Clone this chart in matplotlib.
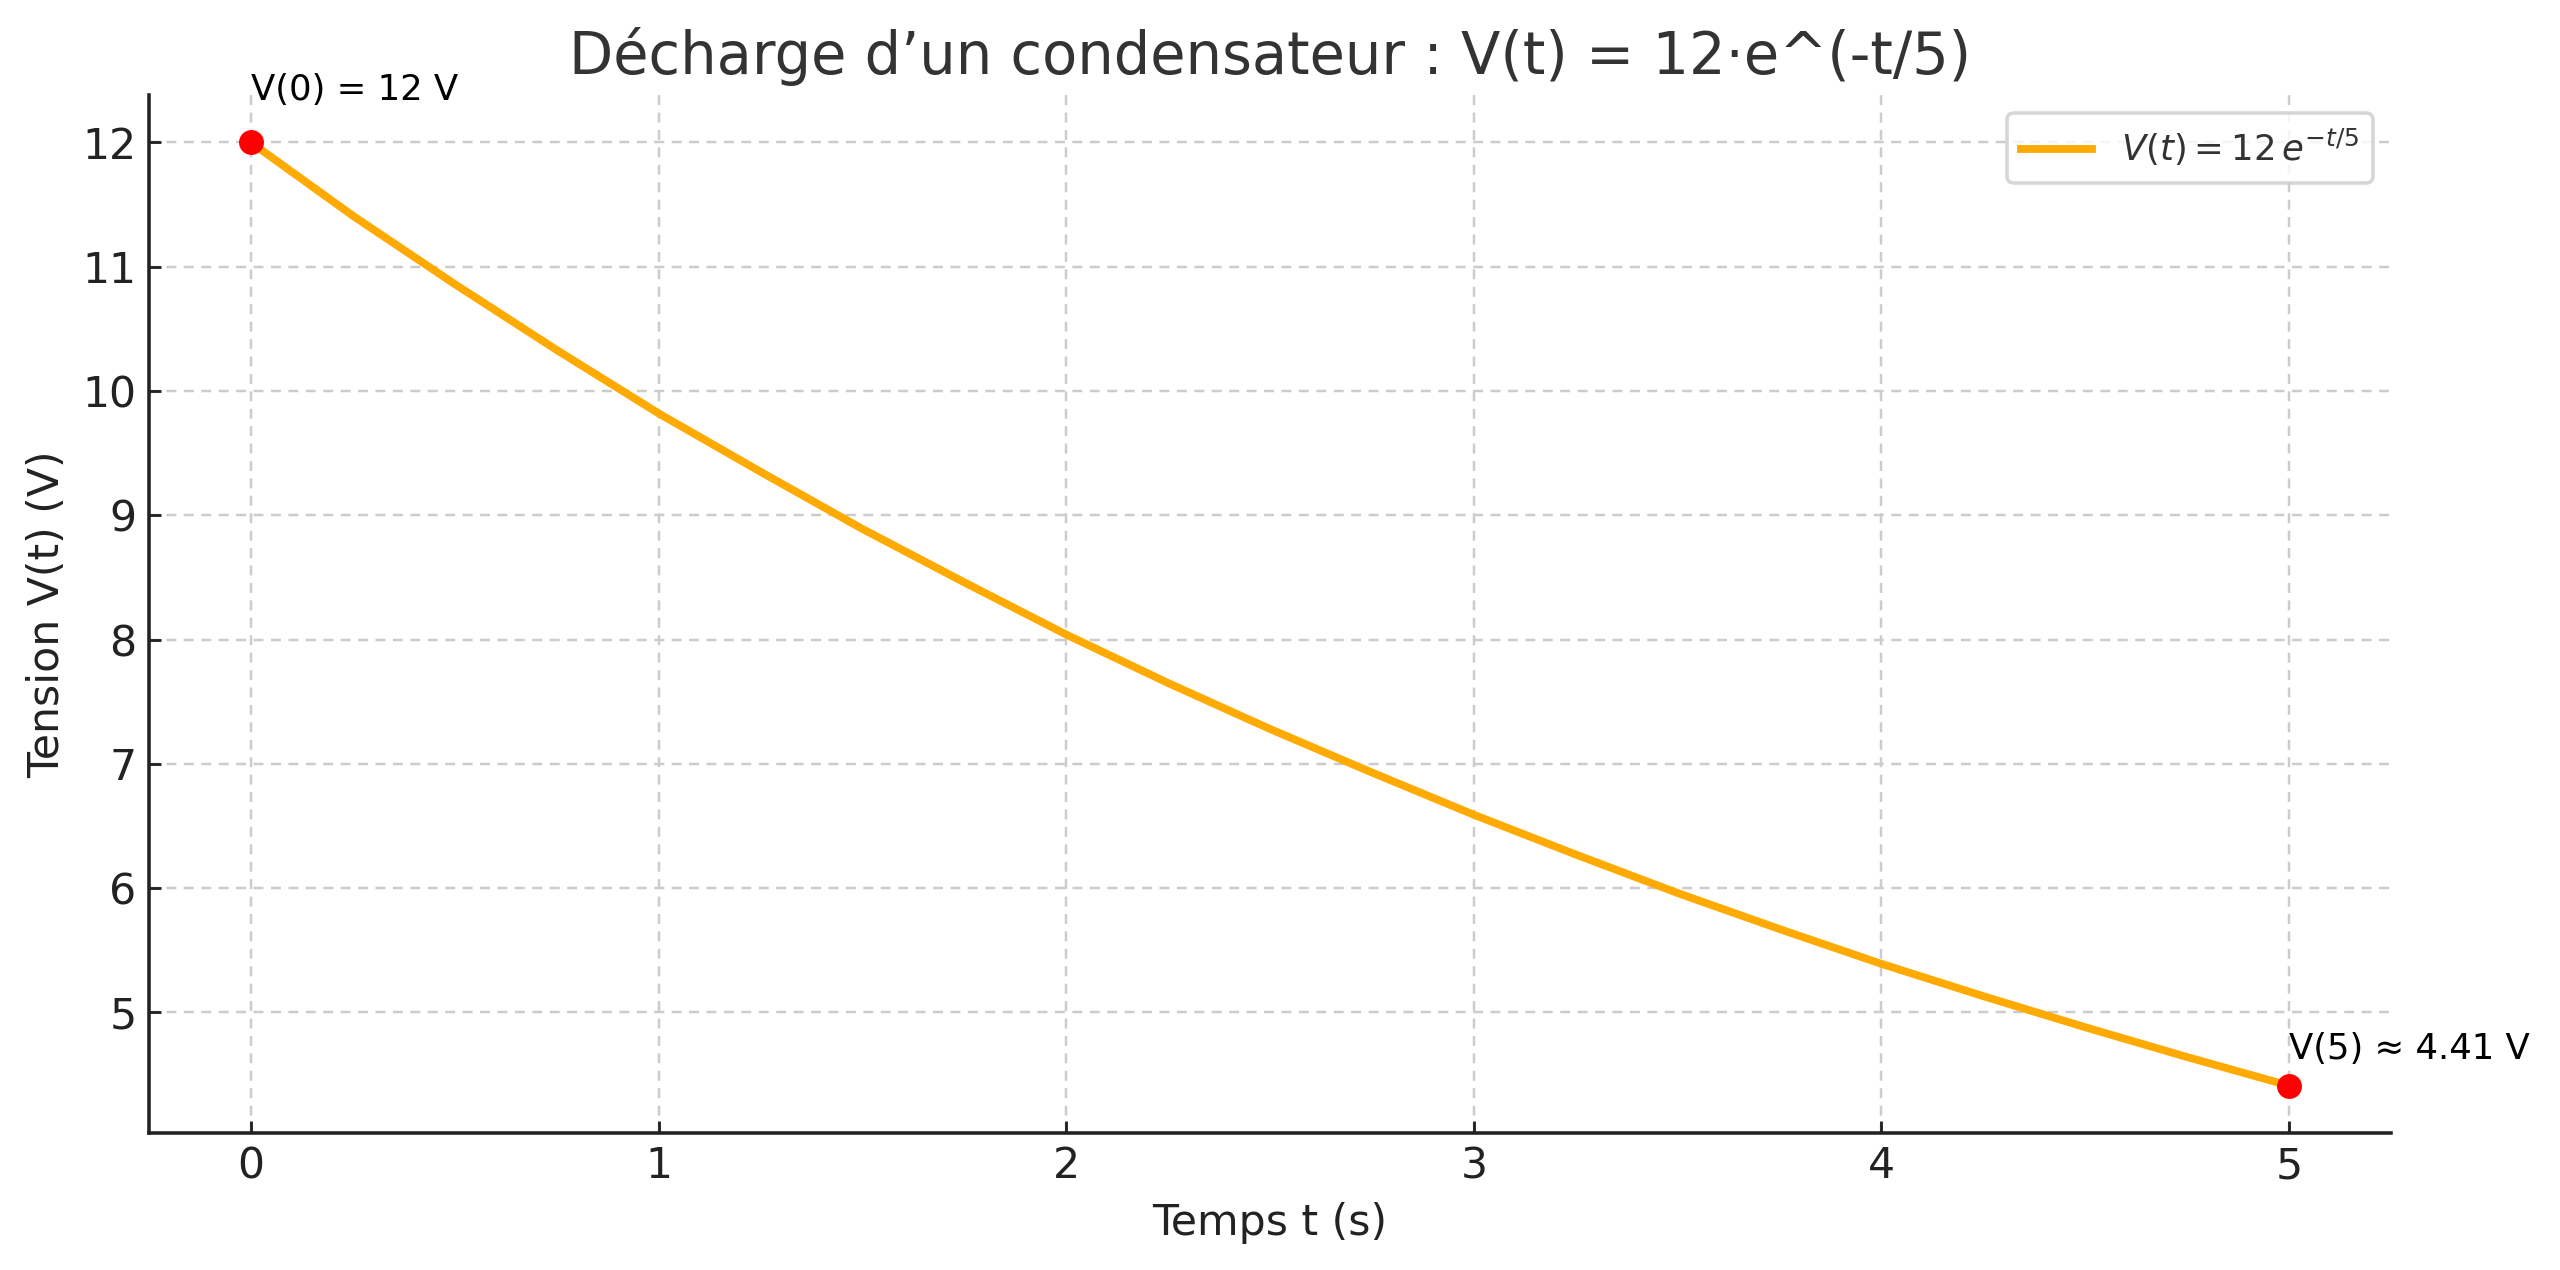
import matplotlib
matplotlib.use("Agg")
import matplotlib.pyplot as plt

# values
t_values = [0, 0.25, 0.5, 0.75, 1, 1.25, 1.5, 1.75, 2, 2.25, 2.5,
            2.75, 3, 3.25, 3.5, 3.75, 4, 4.25, 4.5, 4.75, 5]
v_values = [12.00, 11.41, 10.86, 10.33, 9.82, 9.35, 8.89, 8.46, 8.04, 7.65, 7.28,
            6.93, 6.59, 6.27, 5.96, 5.67, 5.39, 5.13, 4.88, 4.64, 4.41]

marked_t = [0, 5]
marked_v = [12.00, 4.41]
marked_labels = ["V(0) = 12 V", "V(5) ≈ 4.41 V"]
label_offsets = [10, 5.5]

text_col = "#222222"

fig = plt.figure(figsize=(10, 1270 / 256), dpi=256)
ax = fig.add_axes([0.0582, 0.108, 0.934 - 0.0582, 0.925 - 0.108])

ax.plot(t_values, v_values, color="#FFAA00", lw=2.2,
        label=r"$V(t) = 12\,e^{-t/5}$", zorder=2)
ax.plot(marked_t, marked_v, "o", color="#FF0000", ms=6, zorder=3)

for tx, vy, lab, off in zip(marked_t, marked_v, marked_labels, label_offsets):
    ax.annotate(lab, (tx, vy), xytext=(0, off), textcoords="offset points",
                ha="left", va="bottom", fontsize=10, color="black")

ax.set_title("Décharge d’un condensateur : V(t) = 12·e^(-t/5)",
             fontsize=16.2, color="#333333", pad=6)
ax.set_xlabel("Temps t (s)", fontsize=12, color=text_col)
ax.set_ylabel("Tension V(t) (V)", fontsize=12, color=text_col)

ax.grid(True, ls=(0, (4, 3)), color="#cccccc", lw=0.7)
ax.set_axisbelow(True)
ax.spines["top"].set_visible(False)
ax.spines["right"].set_visible(False)
for s in ["left", "bottom"]:
    ax.spines[s].set_color(text_col)
    ax.spines[s].set_linewidth(1.0)
ax.tick_params(labelsize=12, colors=text_col, direction="in")

leg = ax.legend(loc="upper right", fontsize=10, frameon=True, fancybox=True)
leg.get_frame().set_edgecolor("#cccccc")
for txt in leg.get_texts():
    txt.set_color("#333333")

fig.savefig("out.png", dpi=256, facecolor="white")
